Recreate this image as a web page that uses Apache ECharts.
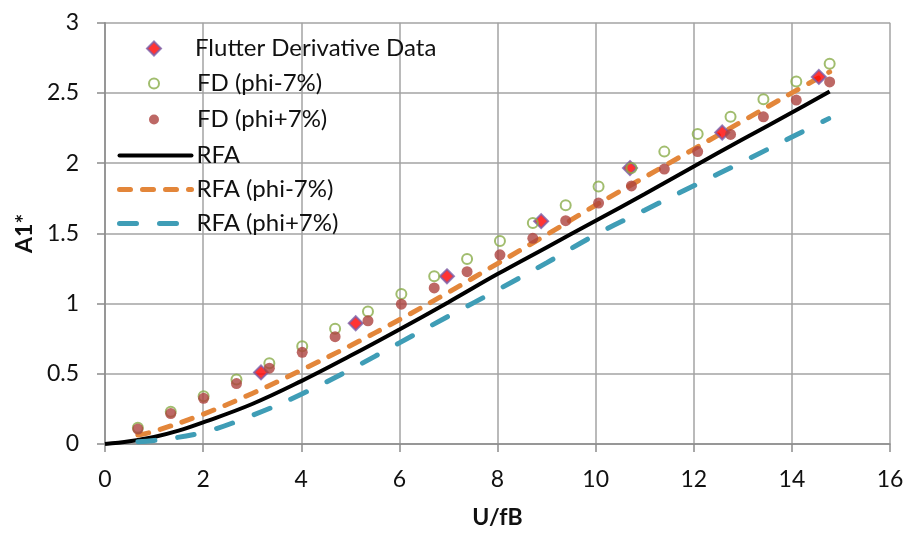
<!DOCTYPE html>
<html>
<head>
<meta charset="utf-8">
<script src="https://cdn.jsdelivr.net/npm/echarts@6/dist/echarts.min.js"></script>
<style>
  html, body { margin: 0; padding: 0; background: #fff; }
  #chart { width: 909px; height: 534px; }
</style>
</head>
<body>
<div id="chart"></div>
<script>
// values
var fdX = [0.67, 1.34, 2.01, 2.68, 3.35, 4.02, 4.69, 5.36, 6.04, 6.71, 7.38, 8.05,
           8.72, 9.39, 10.06, 10.73, 11.40, 12.08, 12.75, 13.42, 14.09, 14.77];
var fdMinus = [0.115, 0.23, 0.34, 0.46, 0.575, 0.696, 0.82, 0.943, 1.068, 1.194, 1.318, 1.446,
               1.573, 1.70, 1.833, 1.965, 2.082, 2.208, 2.331, 2.455, 2.582, 2.708];
var fdPlus = [0.106, 0.217, 0.325, 0.43, 0.54, 0.653, 0.764, 0.877, 0.996, 1.111, 1.227, 1.347,
              1.465, 1.59, 1.716, 1.838, 1.958, 2.082, 2.204, 2.33, 2.449, 2.578];
var fdDataX = [3.18, 5.11, 6.97, 8.89, 10.70, 12.58, 14.55];
var fdDataY = [0.51, 0.86, 1.194, 1.587, 1.965, 2.218, 2.614];

var rfaX = [0, 0.5, 1, 1.5, 2, 3, 4, 5, 6, 7, 8, 9, 10, 11, 12, 13, 14, 14.77];
var rfaY = [0, 0.02, 0.05, 0.095, 0.154, 0.285, 0.448, 0.628, 0.816, 1.01, 1.21, 1.40, 1.59, 1.78, 1.976, 2.17, 2.36, 2.51];
var rfaMinusX = [0.67, 1, 2, 3, 4, 5, 6, 7, 8, 9, 10, 11, 12, 13, 14, 14.77];
var rfaMinusY = [0.064, 0.09, 0.212, 0.36, 0.526, 0.70, 0.885, 1.08, 1.285, 1.49, 1.70, 1.90, 2.10, 2.30, 2.50, 2.65];
var rfaPlusX = [0.67, 1, 2, 3, 4, 5, 6, 7, 8, 9, 10, 11, 12, 13, 14, 14.75];
var rfaPlusY = [0.016, 0.025, 0.083, 0.204, 0.354, 0.53, 0.72, 0.91, 1.097, 1.29, 1.49, 1.665, 1.839, 2.01, 2.186, 2.317];

function pairs(xs, ys) {
  return xs.map(function(x, i) { return [x, ys[i]]; });
}

var font = 'Lato';
var legendText = { fontFamily: font, fontSize: 24, color: '#111' };
// marker legends: small icon box, text pushed right to line up with line legends
var markerText = { fontFamily: font, fontSize: 24, color: '#111', padding: [0, 0, 0, 29] };

var chart = echarts.init(document.getElementById('chart'), null, { renderer: 'canvas' });
chart.setOption({
  animation: false,
  grid: { left: 105, right: 19, top: 22.7, bottom: 89 },
  legend: [
    {
      data: ['Flutter Derivative Data'], orient: 'vertical', left: 146, top: 36.5, padding: 0,
      itemWidth: 14, itemHeight: 14, textStyle: markerText
    },
    {
      data: ['FD (phi-7%)', 'FD (phi+7%)'], orient: 'vertical', left: 148, top: 71.5, padding: 0,
      itemWidth: 10, itemHeight: 10, itemGap: 12, textStyle: { fontFamily: font, fontSize: 24, color: '#111', padding: [0, 0, 0, 33] }
    },
    {
      data: ['RFA', 'RFA (phi-7%)', 'RFA (phi+7%)'], orient: 'vertical', left: 117, top: 143.5, padding: 0,
      itemWidth: 72, itemHeight: 6, itemGap: 10, textStyle: legendText,
      itemStyle: { opacity: 0 },
      lineStyle: { width: 'inherit', type: 'inherit', cap: 'round' }
    }
  ],
  xAxis: {
    type: 'value', min: 0, max: 16, interval: 2,
    name: 'U/fB', nameLocation: 'middle', nameGap: 62,
    nameTextStyle: { fontFamily: font, fontSize: 23, fontWeight: 'bold', color: '#111' },
    axisLine: { lineStyle: { color: '#8c8c8c', width: 1.5 } },
    axisTick: { show: true, length: 8, lineStyle: { color: '#8c8c8c', width: 1.5 } },
    axisLabel: { margin: 24, fontFamily: font, fontSize: 23, color: '#111' },
    splitLine: { lineStyle: { color: '#a3a3a3', width: 1.5 } }
  },
  yAxis: {
    type: 'value', min: 0, max: 3, interval: 0.5,
    name: 'A1*', nameLocation: 'middle', nameGap: 60,
    nameTextStyle: { fontFamily: font, fontSize: 23, fontWeight: 'bold', color: '#111' },
    axisLine: { show: true, lineStyle: { color: '#8c8c8c', width: 1.5 } },
    axisTick: { show: true, length: 8, lineStyle: { color: '#8c8c8c', width: 1.5 } },
    axisLabel: { margin: 26, fontFamily: font, fontSize: 23, color: '#111' },
    splitLine: { lineStyle: { color: '#a3a3a3', width: 1.5 } }
  },
  series: [
    {
      name: 'RFA', type: 'line', smooth: 0.4, symbol: 'none', z: 2,
      lineStyle: { color: '#000', width: 4 }, itemStyle: { color: '#000' },
      data: pairs(rfaX, rfaY)
    },
    {
      name: 'RFA (phi-7%)', type: 'line', smooth: 0.4, symbol: 'none', z: 2,
      lineStyle: { color: '#e3863a', width: 5, type: [11, 12], cap: 'round' },
      itemStyle: { color: '#e3863a' },
      data: pairs(rfaMinusX, rfaMinusY)
    },
    {
      name: 'RFA (phi+7%)', type: 'line', smooth: 0.4, symbol: 'none', z: 2,
      lineStyle: { color: '#3f9db6', width: 5, type: [17, 23], cap: 'round' },
      itemStyle: { color: '#3f9db6' },
      data: pairs(rfaPlusX, rfaPlusY)
    },
    {
      name: 'Flutter Derivative Data', type: 'scatter', symbol: 'diamond', symbolSize: 14, z: 3,
      itemStyle: { color: '#ff0000', borderColor: '#7a5ea8', borderWidth: 2 },
      data: pairs(fdDataX, fdDataY)
    },
    {
      name: 'FD (phi-7%)', type: 'scatter', symbol: 'circle', symbolSize: 10, z: 4,
      itemStyle: { color: 'rgba(255,255,255,0)', borderColor: '#8aac4a', borderWidth: 2 },
      data: pairs(fdX, fdMinus)
    },
    {
      name: 'FD (phi+7%)', type: 'scatter', symbol: 'circle', symbolSize: 11, z: 5,
      itemStyle: { color: '#ad423e' },
      data: pairs(fdX, fdPlus)
    }
  ]
});
window.addEventListener('resize', function() { chart.resize(); });
</script>
</body>
</html>
